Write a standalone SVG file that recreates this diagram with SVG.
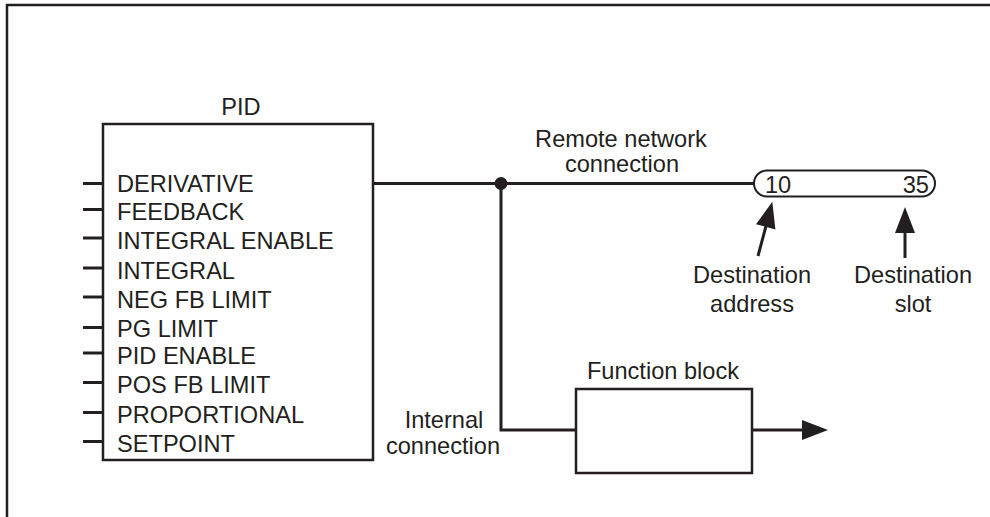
<svg xmlns="http://www.w3.org/2000/svg" width="990" height="517" viewBox="0 0 990 517">
<style>
text{font-family:"Liberation Sans",Arial,sans-serif;font-size:23.6px;fill:#231f20}
.ln{stroke:#231f20;stroke-width:3;fill:none}
.box{stroke:#231f20;stroke-width:2.5;fill:#fff}
.pin{stroke:#231f20;stroke-width:3}
.mid{text-anchor:middle}
.hd{fill:#231f20;stroke:none}
</style>
<rect width="990" height="517" fill="#fff"/>
<path d="M7,517 V5 H990" fill="none" stroke="#231f20" stroke-width="2.5"/>
<g id="pid">
<text class="mid" x="241" y="115">PID</text>
<rect class="box" x="103" y="124" width="270" height="336"/>
<g class="pin">
<line x1="83" y1="183.5" x2="103" y2="183.5"/>
<line x1="83" y1="209.5" x2="103" y2="209.5"/>
<line x1="83" y1="238" x2="103" y2="238"/>
<line x1="83" y1="268" x2="103" y2="268"/>
<line x1="83" y1="297" x2="103" y2="297"/>
<line x1="83" y1="327.5" x2="103" y2="327.5"/>
<line x1="83" y1="353" x2="103" y2="353"/>
<line x1="83" y1="382.5" x2="103" y2="382.5"/>
<line x1="83" y1="412.5" x2="103" y2="412.5"/>
<line x1="83" y1="441.5" x2="103" y2="441.5"/>
</g>
<text x="117" y="192">DERIVATIVE</text>
<text x="117" y="219.5">FEEDBACK</text>
<text x="117" y="248.5">INTEGRAL ENABLE</text>
<text x="117" y="278.5">INTEGRAL</text>
<text x="117" y="307.5">NEG FB LIMIT</text>
<text x="117" y="336.5">PG LIMIT</text>
<text x="117" y="363.5">PID ENABLE</text>
<text x="117" y="392.5">POS FB LIMIT</text>
<text x="117" y="422.5">PROPORTIONAL</text>
<text x="117" y="451.5">SETPOINT</text>
</g>
<g id="function-block">
<text class="mid" x="663" y="379">Function block</text>
<rect class="box" x="576" y="389" width="176" height="84" stroke-width="2"/>
</g>
<g id="address">
<rect x="754" y="170.5" width="181" height="26" rx="13" ry="13" fill="#fff" stroke="#231f20" stroke-width="2"/>
<text x="765" y="193">10</text>
<text x="929" y="193" text-anchor="end">35</text>
</g>
<g id="labels">
<text class="mid" x="621" y="146.5">Remote network</text>
<text class="mid" x="622" y="171.5">connection</text>
<text class="mid" x="444" y="427.5">Internal</text>
<text class="mid" x="443" y="454">connection</text>
<text class="mid" x="752" y="283">Destination</text>
<text class="mid" x="752" y="311.5">address</text>
<text class="mid" x="913" y="283">Destination</text>
<text class="mid" x="913" y="311.5">slot</text>
</g>
<g id="connectors">
<line class="ln" x1="373" y1="183.5" x2="754" y2="183.5"/>
<polyline class="ln" points="501,183.5 501,430 576,430"/>
<circle class="hd" cx="501" cy="183.5" r="6.5"/>
<line class="ln" x1="752" y1="430" x2="805" y2="430"/>
<polygon class="hd" points="828,430 802,420 802,440"/>
<line class="ln" x1="758" y1="256" x2="766" y2="226"/>
<polygon class="hd" points="772.3,201.7 775.4,229.4 756,224.2"/>
<line class="ln" x1="905" y1="258" x2="905" y2="230"/>
<polygon class="hd" points="905,207 895,233 915,233"/>
</g>
</svg>
